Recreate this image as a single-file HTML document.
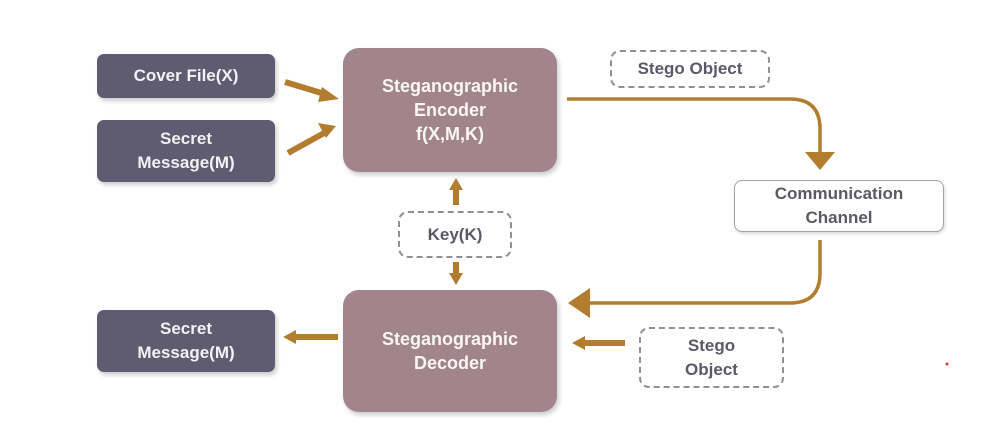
<!DOCTYPE html>
<html><head><style>
body{margin:0;width:1003px;height:441px;background:#fff;position:relative;overflow:hidden;font-family:"Liberation Sans",sans-serif;font-weight:bold}
.b{position:absolute;display:flex;align-items:center;justify-content:center;text-align:center;box-sizing:border-box;line-height:24px}
.d{background:#5f5b71;color:#f2f2f4;border-radius:7px;font-size:17px;box-shadow:2px 3px 4px rgba(0,0,0,.2)}
.m{background:#a1848c;color:#fbf6f6;border-radius:16px;font-size:18px;box-shadow:2px 3px 5px rgba(0,0,0,.2)}
.x{border:2px dashed #8f8f95;border-radius:10px;color:#5b5868;font-size:17px;background:#fff}
</style></head><body>
<div class="b d" style="left:97px;top:54px;width:178px;height:44px">Cover File(X)</div>
<div class="b d" style="left:97px;top:120px;width:178px;height:62px">Secret<br>Message(M)</div>
<div class="b d" style="left:97px;top:310px;width:178px;height:62px">Secret<br>Message(M)</div>
<div class="b m" style="left:343px;top:48px;width:214px;height:124px">Steganographic<br>Encoder<br>f(X,M,K)</div>
<div class="b m" style="left:343px;top:290px;width:214px;height:122px">Steganographic<br>Decoder</div>
<div class="b x" style="left:398px;top:211px;width:114px;height:47px">Key(K)</div>
<div class="b x" style="left:610px;top:50px;width:160px;height:38px">Stego Object</div>
<div class="b x" style="left:639px;top:327px;width:145px;height:61px">Stego<br>Object</div>
<div class="b" style="left:734px;top:180px;width:210px;height:52px;border:1.5px solid #a0a0a6;border-radius:8px;color:#5b5868;font-size:17px;box-shadow:1px 2px 3px rgba(0,0,0,.15)">Communication<br>Channel</div>
<svg width="1003" height="441" style="position:absolute;left:0;top:0" fill="none" stroke="#b27d2e">
<g stroke-width="6" stroke-linecap="butt">
<line x1="285" y1="82" x2="328" y2="95"/>
<line x1="288" y1="153" x2="326" y2="132"/>
<line x1="338" y1="337" x2="294" y2="337"/>
<line x1="625" y1="343" x2="584" y2="343"/>
<line x1="456" y1="205" x2="456" y2="188"/>
<line x1="456" y1="262" x2="456" y2="276"/>
</g>
<path d="M567 99 H790 Q820 99 820 129 V152" stroke-width="3.5"/>
<path d="M820 240 V273 Q820 303 790 303 H588" stroke-width="3.5"/>
<g fill="#b27d2e" stroke="none">
<polygon points="339,99 322,87 318,102"/>
<polygon points="336,126 318,123 326,138"/>
<polygon points="283,337 296,330 296,344"/>
<polygon points="572,343 585,336 585,350"/>
<polygon points="456,178 449,190 463,190"/>
<polygon points="456,285 449,273 463,273"/>
<polygon points="805,152 835,152 820,170"/>
<polygon points="568,303 590,288 590,318"/>
<circle cx="947" cy="364" r="1.5" fill="#e03030"/>
</g>
</svg>
</body></html>
